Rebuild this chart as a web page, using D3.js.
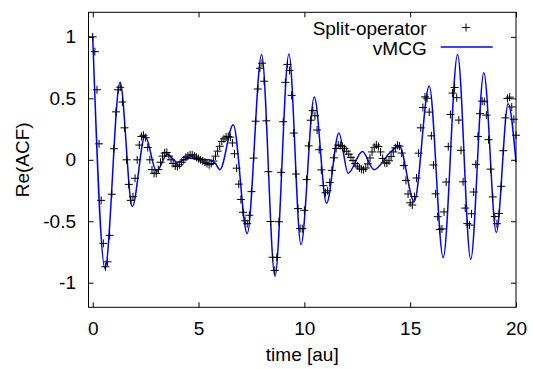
<!DOCTYPE html>
<html>
<head>
<meta charset="utf-8">
<script src="https://cdn.jsdelivr.net/npm/d3@7"></script>
<style>
  body { margin: 0; background: #fff; }
  svg { display: block; }
  text { font-family: "Liberation Sans", Arial, sans-serif; font-size: 19px; fill: #000; }
</style>
</head>
<body>
<svg id="chart" width="533" height="369"></svg>
<script>
// Split-operator samples, one every 0.1 au from t = 0 to t = 20
const soStep = 0.1
const soValues = [
  1.0, 0.88, 0.57, 0.13, -0.33, -0.68, -0.87, -0.83, -0.615, -0.28,
  0.09, 0.39, 0.57, 0.59, 0.47, 0.26, 0.0, -0.2, -0.33, -0.3,
  -0.15, 0.0, 0.12, 0.19, 0.2, 0.18, 0.1, 0.0, -0.08, -0.11,
  -0.11, -0.08, -0.02, 0.03, 0.055, 0.06, 0.03, 0.0, -0.03, -0.05,
  -0.055, -0.04, -0.02, 0.0, 0.02, 0.03, 0.04, 0.04, 0.03, 0.02,
  0.01, 0.0, -0.01, -0.02, -0.03, -0.04, -0.03, -0.01, 0.03, 0.07,
  0.11, 0.15, 0.17, 0.185, 0.19, 0.184, 0.137, 0.049, -0.068, -0.198,
  -0.323, -0.427, -0.496, -0.52, -0.451, -0.259, 0.014, 0.314, 0.576, 0.745,
  0.786, 0.639, 0.317, -0.097, -0.502, -0.793, -0.9, -0.794, -0.504, -0.102,
  0.31, 0.63, 0.776, 0.726, 0.524, 0.218, -0.116, -0.397, -0.559, -0.56,
  -0.411, -0.16, 0.113, 0.322, 0.4, 0.358, 0.242, 0.082, -0.082, -0.21,
  -0.268, -0.252, -0.184, -0.086, 0.016, 0.092, 0.12, 0.117, 0.107, 0.091,
  0.07, 0.046, 0.02, -0.006, -0.03, -0.051, -0.067, -0.077, -0.08, -0.067,
  -0.033, 0.015, 0.064, 0.102, 0.12, 0.108, 0.064, 0.011, -0.025, -0.027,
  -0.008, 0.026, 0.064, 0.098, 0.117, 0.112, 0.055, -0.047, -0.168, -0.278,
  -0.35, -0.368, -0.299, -0.148, 0.054, 0.26, 0.425, 0.512, 0.501, 0.388,
  0.195, -0.042, -0.277, -0.463, -0.567, -0.562, -0.424, -0.181, 0.107, 0.369,
  0.543, 0.588, 0.505, 0.323, 0.077, -0.179, -0.393, -0.519, -0.531, -0.439,
  -0.262, -0.037, 0.19, 0.375, 0.477, 0.475, 0.363, 0.164, -0.076, -0.302,
  -0.462, -0.52, -0.437, -0.216, 0.074, 0.341, 0.499, 0.51, 0.43, 0.33,
  0.2
]

// vMCG curve, read at its turning points
const vmcgTime = [0, 0.58, 1.29, 1.87, 2.47, 3.02, 3.52, 4.0, 4.52, 5.0, 5.5, 5.8, 6.01, 6.64, 7.3, 7.98,
  8.61, 9.27, 9.84, 10.47, 11.05, 11.63, 12.07, 12.74, 13.29, 14.04, 14.48, 15.19, 15.9, 16.56,
  17.24, 17.86, 18.48, 19.07, 19.63, 20.0]
const vmcgValue = [1.0, -0.885, 0.63, -0.38, 0.196, -0.095, 0.046, -0.02, 0.014, 0.003, 0.0, -0.03, -0.08, 0.285, -0.6, 0.857,
  -0.947, 0.86, -0.69, 0.51, -0.354, 0.218, -0.109, 0.068, -0.08, 0.057, 0.114, -0.34, 0.6, -0.795,
  0.857, -0.81, 0.708, -0.59, 0.457, -0.02]

const xTicks = [0, 5, 10, 15, 20]
const yTicks = [-1, -0.5, 0, 0.5, 1]
const seriesNames = ["Split-operator", "vMCG"]

const margin = ({top: 12.3, right: 17, bottom: 61.7, left: 88.5})
const width = 533
const height = 369
const tickLen = 5

const x = d3.scaleLinear()
  .domain([-0.2, 20])
  .range([margin.left, width - margin.right])

const y = d3.scaleLinear()
  .domain([-1.2, 1.2])
  .range([height - margin.bottom, margin.top])

const svg = d3.select("#chart")

const soData = soValues.map((v, i) => ({t: i * soStep, v: v}))
const vmcgData = vmcgTime.map((t, i) => ({t: t, v: vmcgValue[i]}))

// axes, gnuplot style: ticks inside, mirrored on top and right
const fmt = d => String(d)

svg.append("g")
  .attr("transform", `translate(0,${y.range()[0]})`)
  .call(d3.axisBottom(x).tickValues(xTicks).tickFormat(fmt).tickSize(-tickLen).tickSizeOuter(0).tickPadding(14))

svg.append("g")
  .attr("transform", `translate(0,${y.range()[1]})`)
  .call(d3.axisTop(x).tickValues(xTicks).tickFormat("").tickSize(-tickLen).tickSizeOuter(0))

svg.append("g")
  .attr("transform", `translate(${x.range()[0]},0)`)
  .call(d3.axisLeft(y).tickValues(yTicks).tickFormat(fmt).tickSize(-tickLen).tickSizeOuter(0).tickPadding(12.5))

svg.append("g")
  .attr("transform", `translate(${x.range()[1]},0)`)
  .call(d3.axisRight(y).tickValues(yTicks).tickFormat("").tickSize(-tickLen).tickSizeOuter(0))

svg.selectAll(".domain").remove()
svg.selectAll(".tick line").attr("stroke", "#000")
svg.selectAll(".tick text")
  .attr("fill", "#000")
  .style("font-family", '"Liberation Sans", Arial, sans-serif')
  .style("font-size", "19px")

// vMCG line
const line = d3.line()
  .x(d => x(d.t))
  .y(d => y(d.v))
  .curve(d3.curveMonotoneX)

svg.append("path")
  .datum(vmcgData)
  .attr("fill", "none")
  .attr("stroke", "#0000ff")
  .attr("stroke-width", 1.5)
  .attr("d", line)

// Split-operator points
const plus = "M-4,0H4M0,-4V4"
svg.append("g")
  .selectAll("path")
  .data(soData)
  .join("path")
    .attr("transform", d => `translate(${x(d.t)},${y(d.v)})`)
    .attr("d", plus)
    .attr("stroke", "#000")
    .attr("stroke-width", 1)

// frame
svg.append("rect")
  .attr("x", x.range()[0])
  .attr("y", y.range()[1])
  .attr("width", x.range()[1] - x.range()[0])
  .attr("height", y.range()[0] - y.range()[1])
  .attr("fill", "none")
  .attr("stroke", "#000")
  .attr("stroke-width", 1)

// legend
const legend = svg.append("g")
legend.append("text")
  .attr("x", 426.7).attr("y", 34.5)
  .attr("text-anchor", "end")
  .text(seriesNames[0])
legend.append("path")
  .attr("transform", "translate(466,27.5)")
  .attr("d", plus)
  .attr("stroke", "#000")
legend.append("text")
  .attr("x", 426.7).attr("y", 55)
  .attr("text-anchor", "end")
  .text(seriesNames[1])
legend.append("line")
  .attr("x1", 440.7).attr("x2", 492.7)
  .attr("y1", 47).attr("y2", 47)
  .attr("stroke", "#0000ff")
  .attr("stroke-width", 1.5)

// axis titles
svg.append("text")
  .attr("x", (x.range()[0] + x.range()[1]) / 2)
  .attr("y", 361)
  .attr("text-anchor", "middle")
  .text("time [au]")

svg.append("text")
  .attr("transform", `translate(28.5,${(y.range()[0] + y.range()[1]) / 2}) rotate(-90)`)
  .attr("text-anchor", "middle")
  .text("Re(ACF)")
</script>
</body>
</html>
